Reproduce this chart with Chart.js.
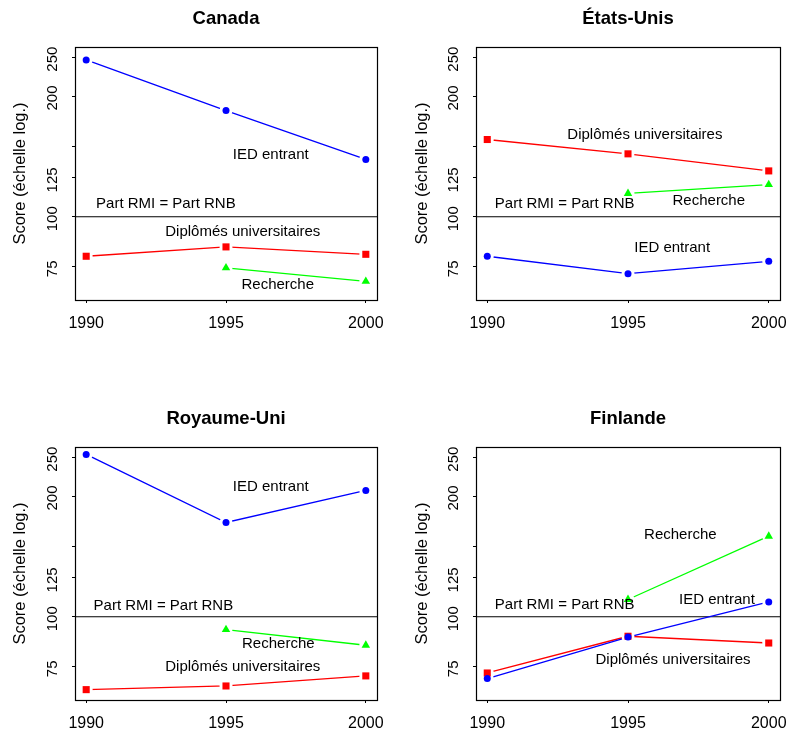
<!DOCTYPE html>
<html>
<head>
<meta charset="utf-8">
<script src="https://cdn.jsdelivr.net/npm/chart.js@4.4.1/dist/chart.umd.min.js"></script>
<style>
  html, body { margin: 0; padding: 0; background: #fff; width: 786px; height: 731px; overflow: hidden; }
  canvas { position: absolute; }
</style>
</head>
<body>
<canvas id="pCanada"></canvas>
<canvas id="pUSA"></canvas>
<canvas id="pUK"></canvas>
<canvas id="pFin"></canvas>
<script>
// ---- Data -------------------------------------------------------------
const years = [1990, 1995, 2000];
const xTicks = [1990, 1995, 2000];
const yTicks = [75, 100, 125, 150, 200, 250];
const seriesNames = ['IED entrant', 'Diplômés universitaires', 'Recherche'];
const refLabel = 'Part RMI = Part RNB';
const refValue = 100;

// Scores (100 = part RMI égale à la part RNB)
const iedCanada  = [246, 184, 139];
const diplCanada = [79.7, 84.1, 80.6];
const rechCanada = [null, 74.6, 69.0];

const iedUSA  = [79.7, 72.1, 77.4];
const diplUSA = [155.8, 143.5, 130.1];
const rechUSA = [null, 114.3, 120.3];

const iedUK  = [254, 171.8, 206.5];
const diplUK = [65.8, 67.2, 71.2];
const rechUK = [null, 92.9, 84.9];

const iedFin  = [70.1, 89.0, 108.9];
const diplFin = [72.4, 89.4, 86.0];
const rechFin = [null, 110.4, 158.8];

// ---- Layout & style ---------------------------------------------------
const FONT = '"Liberation Sans", Arial, Helvetica, sans-serif';
const X_RANGE = [1989.6, 2000.4];
const Y_RANGE = [62, 265];
const seriesStyle = [
  { color: '#0000ff', pointStyle: 'circle',   radius: 3.5 },
  { color: '#ff0000', pointStyle: 'rect',     radius: 5.0 },
  { color: '#00ff00', pointStyle: 'triangle', radius: 4.9 }
];

// where each series / reference caption sits, in data coordinates
const captionsCanada = [
  { text: seriesNames[0], x: 1996.6,  y: 143 },
  { text: refLabel,       x: 1992.85, y: 107.5 },
  { text: seriesNames[1], x: 1995.6,  y: 91.5 },
  { text: seriesNames[2], x: 1996.85, y: 67.8 }
];
const captionsUSA = [
  { text: seriesNames[1], x: 1995.6,  y: 160.4 },
  { text: refLabel,       x: 1992.75, y: 107.5 },
  { text: seriesNames[2], x: 1997.87, y: 109.3 },
  { text: seriesNames[0], x: 1996.57, y: 83.8 }
];
const captionsUK = [
  { text: seriesNames[0], x: 1996.6,  y: 210.9 },
  { text: refLabel,       x: 1992.76, y: 106.4 },
  { text: seriesNames[2], x: 1996.87, y: 85.7 },
  { text: seriesNames[1], x: 1995.6,  y: 75.2 }
];
const captionsFin = [
  { text: seriesNames[2], x: 1996.86, y: 159.8 },
  { text: seriesNames[0], x: 1998.16, y: 110.4 },
  { text: refLabel,       x: 1992.75, y: 106.8 },
  { text: seriesNames[1], x: 1996.6,  y: 77.9 }
];

// ---- Plugins ----------------------------------------------------------
// Interrupts a connecting line around its own markers (like type "b" plots)
const markerGaps = {
  id: 'markerGaps',
  beforeDatasetDraw(chart, args) {
    const ds = chart.data.datasets[args.index];
    if (!ds.markerGap) return;
    const ctx = chart.ctx;
    ctx.save();
    ctx.beginPath();
    ctx.rect(0, 0, chart.width, chart.height);
    args.meta.data.forEach(pt => {
      ctx.moveTo(pt.x + ds.markerGap, pt.y);
      ctx.arc(pt.x, pt.y, ds.markerGap, 0, Math.PI * 2);
    });
    ctx.clip('evenodd');
  },
  afterDatasetDraw(chart, args) {
    if (chart.data.datasets[args.index].markerGap) chart.ctx.restore();
  }
};

// Frame around the plotting region
const frame = {
  id: 'frame',
  afterDraw(chart) {
    const { ctx, chartArea: a } = chart;
    ctx.save();
    ctx.strokeStyle = '#000';
    ctx.lineWidth = 1.2;
    ctx.strokeRect(Math.round(a.left) + 0.5, Math.round(a.top) + 0.5,
                   Math.round(a.right - a.left), Math.round(a.bottom - a.top));
    ctx.restore();
  }
};

// Captions positioned on the chart's own scales
const captions = {
  id: 'captions',
  afterDatasetsDraw(chart, args, opts) {
    const { ctx, scales } = chart;
    ctx.save();
    ctx.fillStyle = '#000';
    ctx.font = '15px ' + FONT;
    ctx.textAlign = 'center';
    ctx.textBaseline = 'middle';
    (opts.items || []).forEach(it => {
      ctx.fillText(it.text, scales.x.getPixelForValue(it.x), scales.y.getPixelForValue(it.y));
    });
    ctx.restore();
  }
};

// ---- Builder ----------------------------------------------------------
function points(values) {
  return years.map((yr, i) => ({ x: yr, y: values[i] })).filter(p => p.y !== null);
}

function makePanel(id, geom, title, ied, dipl, rech, items) {
  const cv = document.getElementById(id);
  cv.style.left = geom.left + 'px';
  cv.style.top = geom.top + 'px';
  cv.width = geom.width;
  cv.height = geom.height;

  const all = [ied, dipl, rech];
  const markerSets = all.map((vals, k) => ({
    data: points(vals),
    showLine: false,
    pointStyle: seriesStyle[k].pointStyle,
    pointRadius: seriesStyle[k].radius,
    pointBackgroundColor: seriesStyle[k].color,
    pointBorderWidth: 0,
    pointBorderColor: seriesStyle[k].color
  }));
  const lineSets = all.map((vals, k) => ({
    data: points(vals),
    borderColor: seriesStyle[k].color,
    borderWidth: 1.3,
    pointRadius: 0,
    tension: 0,
    markerGap: 6.5
  }));
  const refSet = {
    data: [{ x: X_RANGE[0], y: refValue }, { x: X_RANGE[1], y: refValue }],
    borderColor: '#000',
    borderWidth: 1.2,
    pointRadius: 0
  };

  return new Chart(cv, {
    type: 'line',
    data: { datasets: [...markerSets, ...lineSets, refSet] },
    plugins: [markerGaps, frame, captions],
    options: {
      responsive: false,
      animation: false,
      devicePixelRatio: 1,
      layout: { padding: { left: geom.padLeft, right: geom.padRight, top: 0, bottom: 0 } },
      plugins: {
        legend: { display: false },
        tooltip: { enabled: false },
        title: {
          display: true,
          text: title,
          fullSize: false,
          color: '#000',
          font: { family: FONT, size: 18.5, weight: 'bold' },
          padding: { top: 7.4, bottom: 17.4 }
        },
        captions: { items }
      },
      scales: {
        x: {
          type: 'linear',
          min: X_RANGE[0],
          max: X_RANGE[1],
          afterBuildTicks: s => { s.ticks = xTicks.map(v => ({ value: v })); },
          afterFit: s => { s.height = geom.height - 300; },
          border: { display: false },
          grid: { drawOnChartArea: false, drawTicks: true, tickLength: 3, color: '#000', lineWidth: 1 },
          ticks: {
            autoSkip: false, maxRotation: 0, padding: 10.5, color: '#000',
            font: { family: FONT, size: 16 },
            callback: v => String(v)
          }
        },
        y: {
          type: 'logarithmic',
          min: Y_RANGE[0],
          max: Y_RANGE[1],
          afterBuildTicks: s => { s.ticks = yTicks.map(v => ({ value: v })); },
          afterFit: s => { s.width = 75; },
          border: { display: false },
          grid: { drawOnChartArea: false, drawTicks: true, tickLength: 3, color: '#000', lineWidth: 1 },
          ticks: {
            autoSkip: false, minRotation: 90, maxRotation: 90, crossAlign: 'center',
            padding: 6.5, color: '#000', labelOffset: 2,
            font: { family: FONT, size: 15 },
            callback: v => (v === 150 ? '' : String(v))
          },
          title: {
            display: true,
            text: 'Score (échelle log.)',
            color: '#000',
            font: { family: FONT, size: 16.5 },
            padding: { top: geom.titlePad, bottom: 0 }
          }
        }
      }
    }
  });
}

// canvases are transparent, so the wider left ones may overlap the right column
const leftCol  = { left: 0,   width: 405, padLeft: 0, padRight: 28, titlePad: 10.6 };
const rightCol = { left: 393, width: 415, padLeft: 8, padRight: 28, titlePad: 11.9 };
const topRow = { top: 0, height: 340 };
const botRow = { top: 400, height: 331 };

makePanel('pCanada', { ...leftCol, ...topRow },  'Canada',      iedCanada, diplCanada, rechCanada, captionsCanada);
makePanel('pUSA',    { ...rightCol, ...topRow }, 'États-Unis',  iedUSA, diplUSA, rechUSA, captionsUSA);
makePanel('pUK',     { ...leftCol, ...botRow },  'Royaume-Uni', iedUK, diplUK, rechUK, captionsUK);
makePanel('pFin',    { ...rightCol, ...botRow }, 'Finlande',    iedFin, diplFin, rechFin, captionsFin);
</script>
</body>
</html>
